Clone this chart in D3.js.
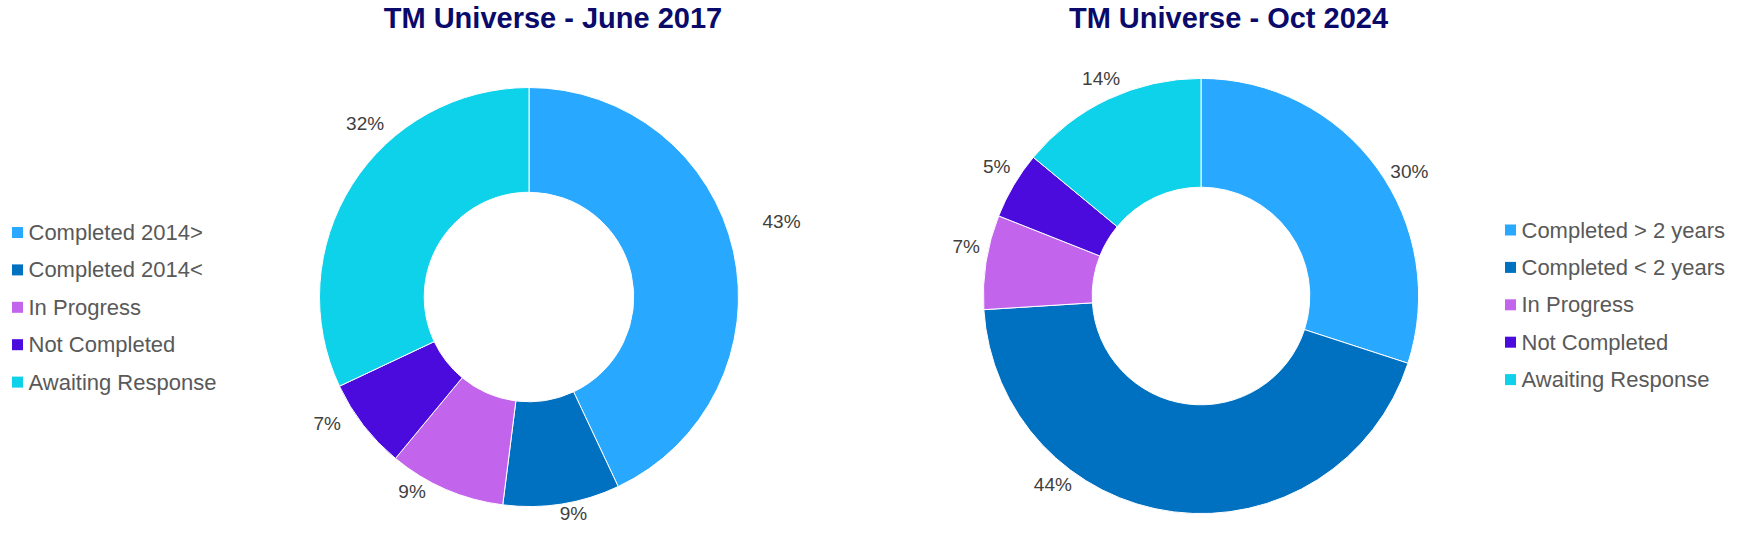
<!DOCTYPE html>
<html>
<head>
<meta charset="utf-8">
<script src="https://cdnjs.cloudflare.com/ajax/libs/d3/7.8.5/d3.min.js"></script>
<style>
  body { margin: 0; background: #fff; }
  text { font-family: "Liberation Sans", Arial, sans-serif; }
</style>
</head>
<body>
<div id="chart"></div>
<script>
// data
var categories2017 = ["Completed 2014>", "Completed 2014<", "In Progress", "Not Completed", "Awaiting Response"];
var values2017 = [43, 9, 9, 7, 32];

var categories2024 = ["Completed > 2 years", "Completed < 2 years", "In Progress", "Not Completed", "Awaiting Response"];
var values2024 = [30, 44, 7, 5, 14];

var colors = ["#29a8ff", "#0070c0", "#c264ec", "#4a0bdc", "#0ed1ea"];

// label placement tweaks [angle deg, distance beyond rim]
var labelAdj2017 = [[-4, 54], [-2.6, 12], [7.6, 17.5], [5.8, 28.5], [14.3, 29.5]];
var labelAdj2024 = [[5.2, 25], [30.9, 22.5], [3, 22.5], [1.7, 24], [0.5, 21.5]];

var width = 1762, height = 557;
var svg = d3.select("#chart").append("svg")
  .attr("width", width).attr("height", height);

function donut(opt){
  var g = svg.append("g")
    .attr("transform", "translate(" + opt.cx + "," + opt.cy + ")");

  var pie = d3.pie().sort(null).value(function(d){ return d; });
  var arc = d3.arc().innerRadius(opt.r * 0.5).outerRadius(opt.r);
  var arcs = pie(opt.values);

  g.selectAll("path").data(arcs).enter().append("path")
    .attr("d", arc)
    .attr("fill", function(d, i){ return colors[i]; })
    .attr("stroke", "#fff")
    .attr("stroke-width", 1);

  g.selectAll("text.lbl").data(arcs).enter().append("text")
    .attr("class", "lbl")
    .attr("transform", function(d, i){
      var a = (d.startAngle + d.endAngle) / 2 + opt.adj[i][0] * Math.PI / 180;
      var p = d3.pointRadial(a, opt.r + opt.adj[i][1]);
      return "translate(" + p[0] + "," + p[1] + ")";
    })
    .attr("text-anchor", "middle")
    .attr("dominant-baseline", "central")
    .style("font-size", "19px")
    .style("fill", "#404040")
    .text(function(d){ return d.data + "%"; });

  svg.append("text")
    .attr("x", opt.titleX).attr("y", 28)
    .attr("text-anchor", "middle")
    .style("font-size", "29px")
    .style("font-weight", "bold")
    .style("fill", "#0a0a6a")
    .text(opt.title);

  var leg = svg.append("g")
    .attr("transform", "translate(" + opt.legX + "," + opt.legY + ")");
  var item = leg.selectAll("g").data(opt.categories).enter().append("g")
    .attr("transform", function(d, i){ return "translate(0," + (i * 37.4) + ")"; });
  item.append("rect")
    .attr("x", 0).attr("y", -5.5)
    .attr("width", 11).attr("height", 11)
    .attr("fill", function(d, i){ return colors[i]; });
  item.append("text")
    .attr("x", 16.5).attr("y", 0)
    .attr("dominant-baseline", "central")
    .style("font-size", "22px")
    .style("fill", "#595959")
    .text(function(d){ return d; });
}

donut({
  values: values2017, categories: categories2017, adj: labelAdj2017,
  cx: 529, cy: 297, r: 209.5,
  title: "TM Universe - June 2017", titleX: 553,
  legX: 12, legY: 232.5
});

donut({
  values: values2024, categories: categories2024, adj: labelAdj2024,
  cx: 1201, cy: 296, r: 217.6,
  title: "TM Universe - Oct 2024", titleX: 1228.5,
  legX: 1505, legY: 230
});
</script>
</body>
</html>
